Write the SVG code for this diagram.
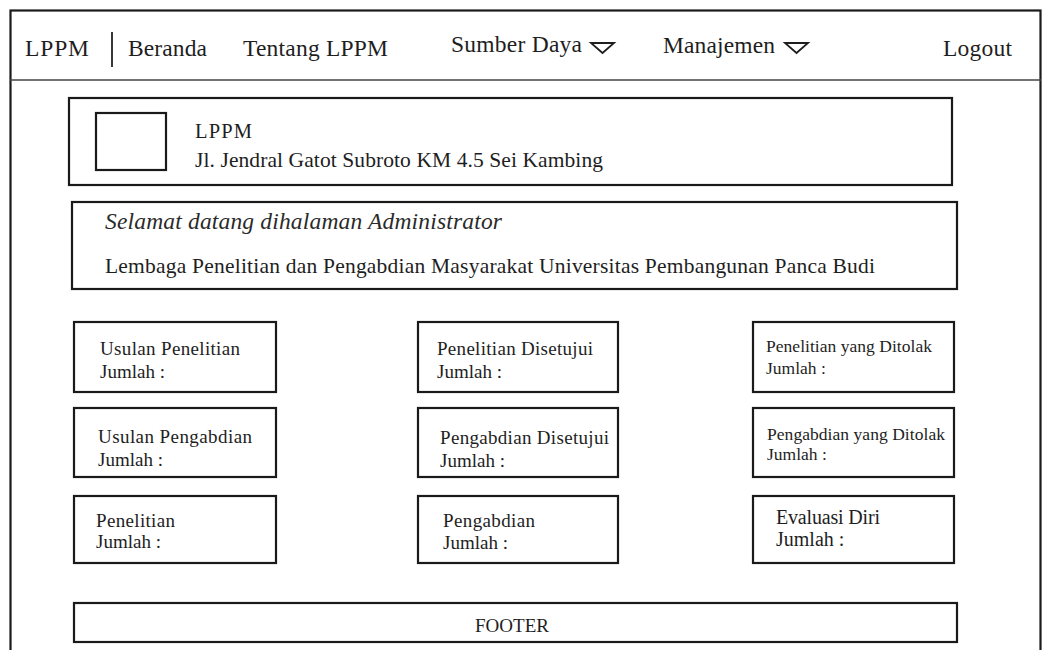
<svg xmlns="http://www.w3.org/2000/svg" width="1045" height="650" viewBox="0 0 1045 650">
<style>
.box{fill:#fff;stroke:#1a1a1a;stroke-width:2.2}
.t{font-family:"Liberation Serif","Times New Roman",serif;fill:#1e1e1e}
.nav{font-size:23.5px}
.s19{font-size:19px}
.s17{font-size:17.5px}
.it{font-family:"Liberation Serif","Times New Roman",serif;font-style:italic;font-size:23.5px;fill:#2a2a2a}
.tri{fill:none;stroke:#1e1e1e;stroke-width:1.8;stroke-linejoin:miter}
</style>
<rect x="0" y="0" width="1045" height="650" fill="#fff"/>
<g id="frame">
<rect x="10.5" y="10.5" width="1030" height="660" fill="#fff" stroke="#1a1a1a" stroke-width="2.2"/>
<line x1="10" y1="80" x2="1041" y2="80" stroke="#444" stroke-width="1.6"/>
</g>
<g id="navbar">
<text class="t nav" x="25" y="56" textLength="64">LPPM</text>
<line x1="112" y1="32" x2="112" y2="67" stroke="#222" stroke-width="1.8"/>
<text class="t nav" x="128" y="56" textLength="79">Beranda</text>
<text class="t nav" x="243" y="56" textLength="145">Tentang LPPM</text>
<g id="nav-sumber-daya">
<text class="t nav" x="451" y="52" textLength="131">Sumber Daya</text>
<path class="tri" d="M591,43 L614,43 L602.5,53 Z"/>
</g>
<g id="nav-manajemen">
<text class="t nav" x="663" y="53" textLength="112">Manajemen</text>
<path class="tri" d="M785,43 L808,43 L796.5,53 Z"/>
</g>
<text class="t nav" x="943" y="56" textLength="69">Logout</text>
</g>
<g id="header-box">
<rect class="box" x="69" y="98" width="883" height="87"/>
<rect class="box" x="96" y="113" width="70" height="57"/>
<text class="t" x="195" y="138" font-size="20.5" textLength="57">LPPM</text>
<text class="t" x="195" y="167" font-size="21.5" textLength="408">Jl. Jendral Gatot Subroto KM 4.5 Sei Kambing</text>
</g>
<g id="welcome-box">
<rect class="box" x="72" y="202" width="885" height="87"/>
<text class="it" x="105" y="229" textLength="397">Selamat datang dihalaman Administrator</text>
<text class="t" x="105" y="273" font-size="21.5" textLength="770">Lembaga Penelitian dan Pengabdian Masyarakat Universitas Pembangunan Panca Budi</text>
</g>
<g id="usulan-penelitian">
<rect class="box" x="74" y="322" width="202" height="70"/>
<text class="t s19" x="100" y="355" textLength="140">Usulan Penelitian</text>
<text class="t s19" x="100" y="378">Jumlah :</text>
</g>
<g id="penelitian-disetujui">
<rect class="box" x="418" y="322" width="200" height="70"/>
<text class="t s19" x="437" y="355" textLength="156">Penelitian Disetujui</text>
<text class="t s19" x="437" y="378">Jumlah :</text>
</g>
<g id="penelitian-ditolak">
<rect class="box" x="753" y="322" width="201" height="70"/>
<text class="t s17" x="766" y="352" textLength="166">Penelitian yang Ditolak</text>
<text class="t s17" x="766" y="374">Jumlah :</text>
</g>
<g id="usulan-pengabdian">
<rect class="box" x="74" y="408" width="202" height="69"/>
<text class="t s19" x="98" y="443" textLength="154">Usulan Pengabdian</text>
<text class="t s19" x="98" y="466">Jumlah :</text>
</g>
<g id="pengabdian-disetujui">
<rect class="box" x="418" y="408" width="200" height="69"/>
<text class="t s19" x="440" y="444" textLength="169">Pengabdian Disetujui</text>
<text class="t s19" x="440" y="467">Jumlah :</text>
</g>
<g id="pengabdian-ditolak">
<rect class="box" x="753" y="408" width="201" height="69"/>
<text class="t s17" x="767" y="440" textLength="178">Pengabdian yang Ditolak</text>
<text class="t s17" x="767" y="460">Jumlah :</text>
</g>
<g id="penelitian">
<rect class="box" x="74" y="496" width="202" height="67"/>
<text class="t s19" x="96" y="527" textLength="79">Penelitian</text>
<text class="t s19" x="96" y="548">Jumlah :</text>
</g>
<g id="pengabdian">
<rect class="box" x="418" y="496" width="200" height="67"/>
<text class="t s19" x="443" y="527" textLength="92">Pengabdian</text>
<text class="t s19" x="443" y="549">Jumlah :</text>
</g>
<g id="evaluasi-diri">
<rect class="box" x="753" y="496" width="201" height="67"/>
<text class="t" x="776" y="524" font-size="20" textLength="104">Evaluasi Diri</text>
<text class="t" x="776" y="546" font-size="20">Jumlah :</text>
</g>
<g id="footer">
<rect class="box" x="74" y="603" width="883" height="39"/>
<text class="t s19" x="512" y="632" text-anchor="middle">FOOTER</text>
</g>
<g id="connectors"/>
</svg>
